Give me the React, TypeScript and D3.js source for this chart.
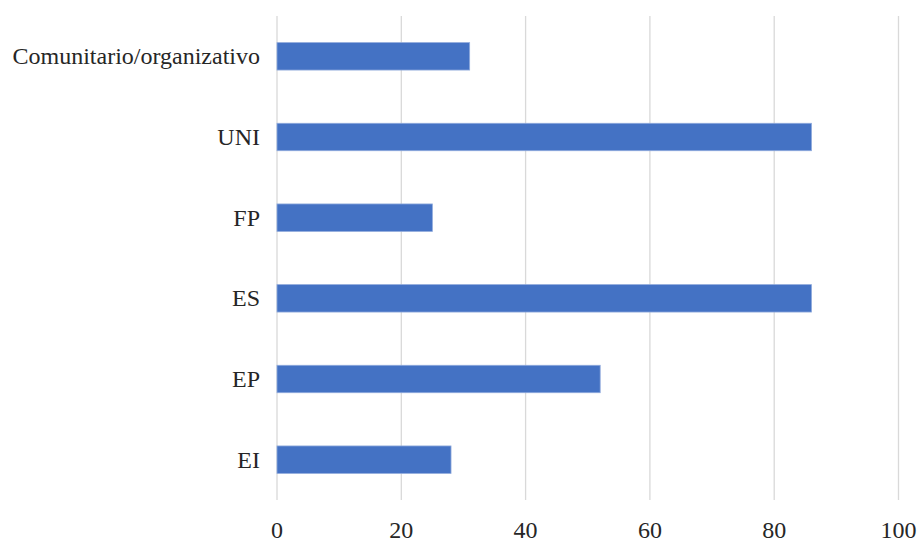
import React from "react";
import * as d3 from "d3";

const categories = ["Comunitario/organizativo", "UNI", "FP", "ES", "EP", "EI"];
const values = [31, 86, 25, 86, 52, 28];
const ticks = [0, 20, 40, 60, 80, 100];

const W = 921;
const H = 541;
const M = { left: 277, right: 22.5, top: 16, bottom: 41 };

export default function App() {
  const x = d3.scaleLinear().domain([0, 100]).range([M.left, W - M.right]);
  const y = d3
    .scaleBand<string>()
    .domain(categories)
    .range([M.top, H - M.bottom])
    .paddingInner(0.66)
    .paddingOuter(0.33);
  const font = "'Liberation Serif', 'Times New Roman', serif";
  return (
    <svg
      width={W}
      height={H}
      style={{ position: "absolute", left: 0, top: 0, background: "#fff" }}
    >
      {ticks.map((t) => (
        <line
          key={"g" + t}
          x1={x(t)}
          x2={x(t)}
          y1={M.top}
          y2={H - M.bottom}
          stroke="#d9d9d9"
          strokeWidth={1.3}
        />
      ))}
      {categories.map((c, i) => (
        <rect
          key={c}
          x={x(0)}
          y={y(c)!}
          width={x(values[i]) - x(0)}
          height={y.bandwidth()}
          fill="#4472c4"
          stroke="#8faadc"
          strokeWidth={0.8}
        />
      ))}
      {categories.map((c) => (
        <text
          key={"l" + c}
          x={M.left - 17}
          y={y(c)! + y.bandwidth() / 2}
          textAnchor="end"
          dominantBaseline="central"
          fontFamily={font}
          fontSize={24}
          fill="#262626"
        >
          {c}
        </text>
      ))}
      {ticks.map((t) => (
        <text
          key={"t" + t}
          x={x(t)}
          y={530}
          textAnchor="middle"
          dominantBaseline="central"
          fontFamily={font}
          fontSize={24}
          fill="#262626"
        >
          {t}
        </text>
      ))}
    </svg>
  );
}
